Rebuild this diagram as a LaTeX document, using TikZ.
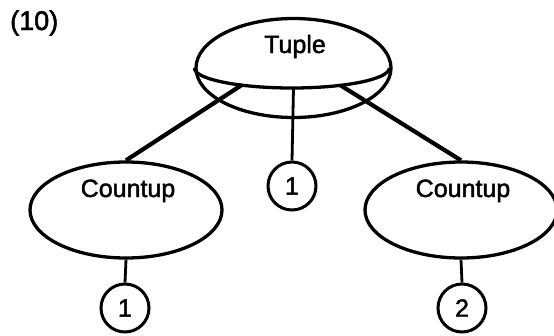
\documentclass[tikz,border=0pt]{standalone}
\usepackage{fontspec}
\setmainfont[FakeBold=1.8]{Liberation Sans}
\usetikzlibrary{shapes.geometric,calc}
\begin{document}
\begin{tikzpicture}[x=1pt,y=-1pt,
  every node/.style={font=\fontsize{25}{28}\selectfont},
  bigell/.style={draw, ellipse, line width=3.3pt, inner sep=0pt},
  numcirc/.style={draw, circle, line width=3pt, minimum size=48pt, inner sep=0pt},
  branch/.style={line width=4.2pt},
  stem/.style={line width=2.8pt},
  lbl/.style={anchor=base, inner sep=0pt}]
\useasboundingbox (0,0) rectangle (554,335);
% label
\node[anchor=base west, inner sep=0pt, font=\fontsize{27}{30}\selectfont] (tag) at (10,30) {(10)};
% Tuple
\node[bigell, minimum width=195pt, minimum height=99pt] (tuple) at (293.5,68) {};
\node[lbl] (tupletext) at (295,53) {Tuple};
\draw[line width=3.3pt] (tuple.west) arc[start angle=180, end angle=0, x radius=97.5, y radius=20];
\coordinate (la) at ($(tuple.center)+(122:97.5 and 20)$);
\coordinate (ma) at ($(tuple.center)+(90:97.5 and 20)$);
\coordinate (ra) at ($(tuple.center)+(61:97.5 and 20)$);
% Countups
\node[bigell, minimum width=192pt, minimum height=96pt] (lc) at (126,210) {};
\node[lbl] (lctext) at (128,197) {Countup};
\node[bigell, minimum width=192pt, minimum height=96pt] (rc) at (461,210) {};
\node[lbl] (rctext) at (463,197) {Countup};
% circles
\node[numcirc] (m1) at (292,186) {1};
\node[numcirc] (c1) at (125,308) {1};
\node[numcirc] (c2) at (462,308) {2};
% connectors
\draw[branch] (la) -- (lc.north);
\draw[branch] (ra) -- (rc.north);
\draw[stem] (ma) -- (m1.north);
\draw[stem] (lc.south) -- (c1.north);
\draw[stem] (rc.south) -- (c2.north);
\end{tikzpicture}
\end{document}
